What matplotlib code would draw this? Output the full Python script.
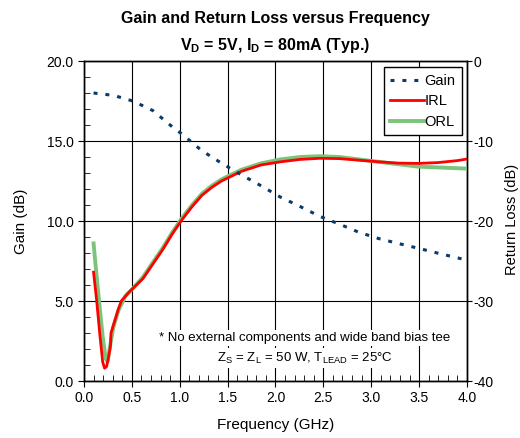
import matplotlib
matplotlib.use("Agg")
import matplotlib.pyplot as plt
from matplotlib.ticker import MultipleLocator

plt.rcParams["font.family"] = "Liberation Sans"
plt.rcParams["mathtext.fontset"] = "custom"
plt.rcParams["mathtext.rm"] = "Liberation Sans"
plt.rcParams["mathtext.bf"] = "Liberation Sans:bold"

# Gain (dB), left axis
gain_freq = [0.1, 0.31, 0.51, 0.72, 0.92, 1.03, 1.23, 1.44, 1.64, 1.85, 2.05,
             2.26, 2.46, 2.67, 2.87, 3.08, 3.28, 3.49, 3.69, 3.9, 4.0]
gain = [18.0, 17.85, 17.5, 16.9, 15.9, 15.4, 14.4, 13.6, 12.9, 12.2, 11.5,
        10.9, 10.3, 9.8, 9.3, 8.9, 8.6, 8.3, 8.0, 7.7, 7.55]

# Input return loss (dB), right axis
irl_freq = [0.10, 0.133, 0.164, 0.195, 0.215, 0.236, 0.257, 0.277, 0.282,
            0.308, 0.359, 0.39, 0.462, 0.513, 0.616, 0.718, 0.821, 0.923,
            1.026, 1.129, 1.231, 1.334, 1.436, 1.539, 1.642, 1.847, 2.052,
            2.257, 2.462, 2.668, 2.873, 3.078, 3.283, 3.488, 3.694, 3.899, 4.0]
irl = [-26.4, -30.0, -34.0, -37.6, -38.4, -38.2, -37.0, -35.6, -34.0, -33.0,
       -31.0, -30.0, -29.0, -28.4, -27.2, -25.4, -23.6, -21.6, -19.8, -18.2,
       -16.8, -15.8, -15.0, -14.4, -13.8, -13.0, -12.6, -12.3, -12.16, -12.2,
       -12.4, -12.6, -12.76, -12.8, -12.7, -12.45, -12.25]

# Output return loss (dB), right axis
orl_freq = [0.10, 0.133, 0.164, 0.195, 0.226, 0.246, 0.267, 0.308, 0.359,
            0.431, 0.513, 0.616, 0.718, 0.821, 0.923, 1.026, 1.129, 1.231,
            1.334, 1.436, 1.539, 1.642, 1.847, 2.052, 2.257, 2.462, 2.668,
            2.873, 3.078, 3.283, 3.488, 3.694, 3.899, 4.0]
orl = [-22.8, -27.0, -30.8, -34.4, -37.2, -37.6, -36.0, -33.2, -31.2, -29.4,
       -28.4, -27.0, -25.2, -23.4, -21.4, -19.6, -18.0, -16.6, -15.6, -14.8,
       -14.2, -13.6, -12.8, -12.3, -12.0, -11.9, -12.0, -12.3, -12.6, -12.9,
       -13.2, -13.3, -13.4, -13.45]

fig = plt.figure(figsize=(5.2, 4.38), dpi=100)
ax = fig.add_axes([0.1615, 0.1301, 0.7365, 0.7306])
ax2 = ax.twinx()

ax.set_xlim(0, 4.0)
ax.set_ylim(0, 20)
ax2.set_ylim(-40, 0)

ax.xaxis.set_major_locator(MultipleLocator(0.5))
ax.xaxis.set_minor_locator(MultipleLocator(0.1))
ax.yaxis.set_major_locator(MultipleLocator(5))
ax.yaxis.set_minor_locator(MultipleLocator(1))
ax2.yaxis.set_major_locator(MultipleLocator(10))

ax.grid(True, which="major", color="black", linewidth=0.8)
ax.set_axisbelow(True)

ax.set_xticklabels([f"{v:.1f}" for v in ax.get_xticks()])
ax.set_yticklabels([f"{v:.1f}" for v in ax.get_yticks()])
ax2.set_yticklabels([f"{int(v)}" for v in ax2.get_yticks()])

ax.tick_params(axis="both", which="major", direction="out", length=4,
               labelsize=10)
ax.tick_params(axis="both", which="minor", direction="in", length=4)
ax2.tick_params(axis="y", which="major", direction="out", length=3.5, pad=1,
                labelsize=10)

for a in (ax, ax2):
    for s in a.spines.values():
        s.set_linewidth(1.0)

gain_style = dict(color="#0b3a66", linewidth=2.2, linestyle=(0, (1.3, 2.6)))

ax2.set_zorder(ax.get_zorder() + 1)
ax2.patch.set_visible(False)

# gain drawn on the return-loss axes so it sits above the RL lines
l_orl, = ax2.plot(orl_freq, orl, color="#7cc47c", linewidth=2.8, zorder=3)
l_irl, = ax2.plot(irl_freq, irl, color="#ff0000", linewidth=2, zorder=4)
l_gain, = ax2.plot(gain_freq, [g * 2 - 40 for g in gain], zorder=5,
                   **gain_style)

leg = ax2.legend([l_gain, l_irl, l_orl], ["Gain", "IRL", "ORL"],
                 loc="upper right", bbox_to_anchor=(0.987, 0.981),
                 fontsize=10.5, frameon=True, fancybox=False,
                 handlelength=2.3, handletextpad=0.05, borderpad=0.45,
                 labelspacing=0.45, borderaxespad=0)
leg.get_frame().set_edgecolor("black")
leg.get_frame().set_linewidth(1.0)
leg.get_frame().set_alpha(1)
leg.set_zorder(7)

ax.set_xlabel("Frequency (GHz)", fontsize=11, labelpad=9)
ax.set_ylabel("Gain (dB)", fontsize=11, labelpad=13)
fig.text(0.985, 0.5, "Return Loss (dB)", rotation=90, ha="center",
         va="center", fontsize=10.5)

ax2.text(0.577, 0.134, "* No external components and wide band bias tee",
         transform=ax.transAxes, ha="center", va="center", fontsize=9.5,
         bbox=dict(facecolor="white", edgecolor="none", pad=1.5), zorder=6)
ax2.text(0.577, 0.072,
         r"Z$_\mathrm{S}$ = Z$_\mathrm{L}$ = 50 W, T$_\mathrm{LEAD}$ = 25°C",
         transform=ax.transAxes, ha="center", va="center", fontsize=9.5,
         bbox=dict(facecolor="white", edgecolor="none", pad=1.5), zorder=6)

fig.text(0.529, 0.958, "Gain and Return Loss versus Frequency", ha="center",
         va="center", fontsize=11.5, fontweight="bold")
fig.text(0.529, 0.895,
         r"V$_\mathbf{D}$ = 5V, I$_\mathbf{D}$ = 80mA (Typ.)", ha="center",
         va="center", fontsize=11.5, fontweight="bold")

fig.savefig("out.png", dpi=100)
